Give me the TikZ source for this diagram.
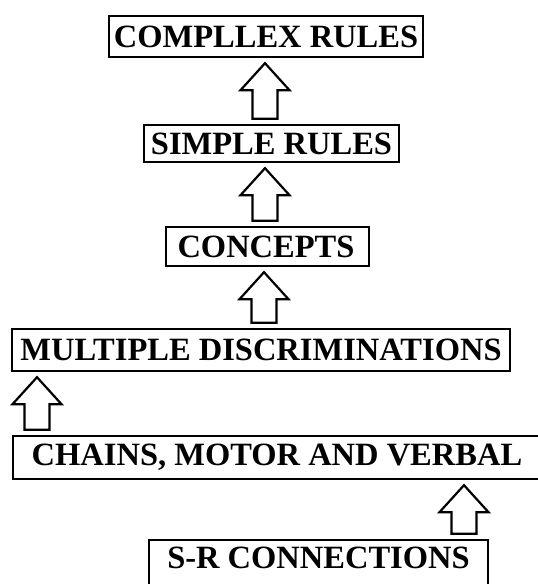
\documentclass[tikz,border=0pt]{standalone}
\usepackage{fontspec}
\setmainfont{Liberation Serif}
\usepackage{tikz}
\usetikzlibrary{calc}

% block arrow pointing up: #1 x, #2 node below, #3 node above
\newcommand{\blockup}[3]{%
  \draw[blockline] let \p1=(#2), \p2=(#3) in
    (#1pt-12.5pt,\y1+5pt) -- (#1pt+12.5pt,\y1+5pt) -- (#1pt+12.5pt,\y2-32pt)
    -- (#1pt+24.5pt,\y2-32pt) -- (#1pt,\y2-5pt) -- (#1pt-24.5pt,\y2-32pt)
    -- (#1pt-12.5pt,\y2-32pt) -- cycle;}

\begin{document}
\begin{tikzpicture}[x=1pt,y=-1pt,
    level/.style={draw, line width=2.4pt, inner sep=0pt,
      font=\fontsize{32.5}{38}\selectfont\bfseries},
    blockline/.style={draw, line width=2.2pt, fill=white, line join=miter}]
    \useasboundingbox (0,0) rectangle (538,584);

    % Levels
    \node[level, minimum width=314, minimum height=41] (complex) at (266,36.5) {COMPLLEX RULES};
    \node[level, minimum width=255, minimum height=37] (simple) at (271.5,143.5) {SIMPLE RULES};
    \node[level, minimum width=203, minimum height=39, text width=180, align=left] (concepts) at (267.5,246.5) {CONCEPTS};
    \node[level, minimum width=498, minimum height=42] (multiple) at (261,350) {MULTIPLE DISCRIMINATIONS};
    \node[level, minimum width=528, minimum height=43] (chains) at (277,457.5) {CHAINS, MOTOR AND VERBAL};
    \node[level, minimum width=339, minimum height=50, text depth=15pt] (sr) at (318.5,565) {S-R CONNECTIONS};

    % Arrows
    \blockup{265}{simple.north}{complex.south}
    \blockup{265}{concepts.north}{simple.south}
    \blockup{264}{multiple.north}{concepts.south}
    \blockup{37}{chains.north}{multiple.south}
    \blockup{464}{sr.north}{chains.south}
\end{tikzpicture}
\end{document}
